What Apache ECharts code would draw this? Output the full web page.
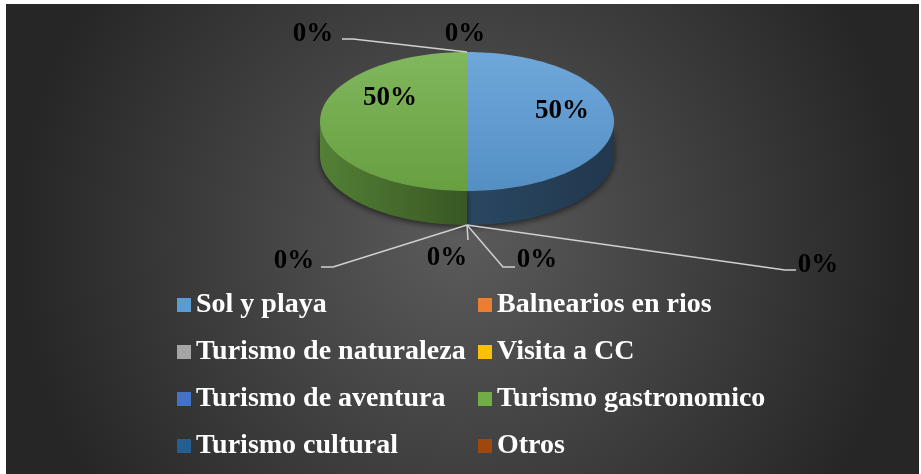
<!DOCTYPE html>
<html>
<head>
<meta charset="utf-8">
<script src="https://cdn.jsdelivr.net/npm/echarts@6/dist/echarts.min.js"></script>
<style>
  html, body { margin: 0; padding: 0; background: #fff; }
  #chart { width: 921px; height: 474px; }
</style>
</head>
<body>
<div id="chart"></div>
<script>
// datos del grafico
const categories = [
  "Sol y playa",
  "Balnearios en rios",
  "Turismo de naturaleza",
  "Visita a CC",
  "Turismo de aventura",
  "Turismo gastronomico",
  "Turismo cultural",
  "Otros"
];
const values = [1, 0, 0, 0, 0, 1, 0, 0];

// estilos (colores de Excel)
const colors = ["#5b9bd5", "#ed7d31", "#a5a5a5", "#ffc000", "#4472c4", "#70ad47", "#255e91", "#9e480e"];

// posiciones de etiquetas: [x, y] del texto y puntos de la guia despues del anclaje
const labelSpots = [
  { x: 562, y: 111, line: null },
  { x: 818, y: 265, line: [[785, 270], [796, 270]] },
  { x: 537, y: 260, line: [[503, 267], [515, 267]] },
  { x: 447, y: 258, line: [[468, 240]] },
  { x: 294, y: 261, line: [[333, 267], [321, 267]] },
  { x: 390, y: 98, line: null },
  { x: 313, y: 34, line: [[353, 39], [342, 39]] },
  { x: 465, y: 34, line: null }
];

// geometria del pastel 3D
const cx = 467, cy = 121.5, rx = 147, ry = 69.5, depth = 34;

const total = values.reduce((a, b) => a + b, 0);
const starts = [];
let acc = 0;
values.forEach(v => { starts.push(acc / total * 360); acc += v; });

function shade(c, f) {
  const p = echarts.color.parse(c);
  return "rgb(" + [0, 1, 2].map(k => Math.min(255, Math.round(p[k] * f))).join(",") + ")";
}
function tint(c, t) {
  const p = echarts.color.parse(c);
  return "rgb(" + [0, 1, 2].map(k => Math.round(p[k] + (255 - p[k]) * t)).join(",") + ")";
}

function pt(deg, dy) {
  const r = deg * Math.PI / 180;
  return [cx + rx * Math.sin(r), cy - ry * Math.cos(r) + (dy || 0)];
}
function arc(a, b, dy) {
  const pts = [];
  const n = Math.max(2, Math.ceil(Math.abs(b - a) / 2));
  for (let k = 0; k <= n; k++) pts.push(pt(a + (b - a) * k / n, dy));
  return pts;
}

function drawSlice(i) {
  const children = [];
  const a = starts[i];
  const b = a + values[i] / total * 360;
  const c = colors[i];
  if (b > a) {
    // cara lateral visible (entre 90 y 270 grados)
    const s = Math.max(a, 90), e = Math.min(b, 270);
    if (e > s) {
      const top = arc(s, e, 0);
      const bottom = arc(e, s, depth);
      const leftSide = s >= 180;
      children.push({
        type: "polygon",
        z2: 1,
        shape: { points: top.concat(bottom) },
        style: {
          fill: {
            type: "linear", x: 0, y: 0, x2: 1, y2: 0,
            colorStops: leftSide
              ? [{ offset: 0, color: shade(c, 0.74) }, { offset: 1, color: shade(c, 0.5) }]
              : [{ offset: 0, color: shade(c, 0.46) }, { offset: 1, color: shade(c, 0.36) }]
          },
          shadowBlur: 6,
          shadowColor: "rgba(0,0,0,0.6)",
          shadowOffsetY: 2
        }
      });
    }
    // cara superior
    children.push({
      type: "polygon",
      z2: 2,
      shape: { points: [[cx, cy]].concat(arc(a, b, 0)) },
      style: {
        fill: {
          type: "linear", x: 0, y: 0, x2: 0, y2: 1,
          colorStops: [
            { offset: 0, color: tint(c, 0.12) },
            { offset: 1, color: shade(c, 0.92) }
          ]
        }
      }
    });
  }
  // etiqueta y guia
  const mid = (a + b) / 2;
  const anchor = (mid > 90 && mid < 270) ? pt(mid, depth) : pt(mid, 0);
  const spot = labelSpots[i];
  if (spot.line) {
    children.push({
      type: "polyline",
      z2: 3,
      shape: { points: [anchor].concat(spot.line) },
      style: { stroke: "#d0d0d0", lineWidth: 1.5, fill: null }
    });
  }
  children.push({
    type: "text",
    z2: 4,
    style: {
      text: Math.round(values[i] / total * 100) + "%",
      x: spot.x,
      y: spot.y,
      fill: "#000",
      font: 'bold 27px "Liberation Serif"',
      align: "center",
      verticalAlign: "middle"
    }
  });
  return { type: "group", children: children };
}

const chart = echarts.init(document.getElementById("chart"));

const legendStyle = {
  orient: "vertical",
  top: 290,
  padding: 0,
  itemWidth: 14,
  itemHeight: 14,
  itemGap: 17,
  icon: "rect",
  selectedMode: false,
  textStyle: {
    color: "#fff",
    fontFamily: "Liberation Serif",
    fontWeight: "bold",
    fontSize: 28,
    lineHeight: 30
  }
};

chart.setOption({
  animation: false,
  backgroundColor: "#fff",
  graphic: [{
    type: "rect",
    z: -10,
    silent: true,
    shape: { x: 6, y: 4, width: 913, height: 470 },
    style: {
      fill: {
        type: "radial", x: 0.5, y: 0.5, r: 0.95,
        colorStops: [
          { offset: 0, color: "#5b5b5b" },
          { offset: 1, color: "#262626" }
        ]
      }
    }
  }],
  legend: [
    Object.assign({ left: 177, data: [categories[0], categories[2], categories[4], categories[6]] }, legendStyle),
    Object.assign({ left: 478, data: [categories[1], categories[3], categories[5], categories[7]] }, legendStyle)
  ],
  series: categories.map((name, i) => ({
    type: "custom",
    name: name,
    coordinateSystem: "none",
    silent: true,
    itemStyle: { color: colors[i] },
    data: [[values[i]]],
    renderItem: () => drawSlice(i)
  }))
});
</script>
</body>
</html>
